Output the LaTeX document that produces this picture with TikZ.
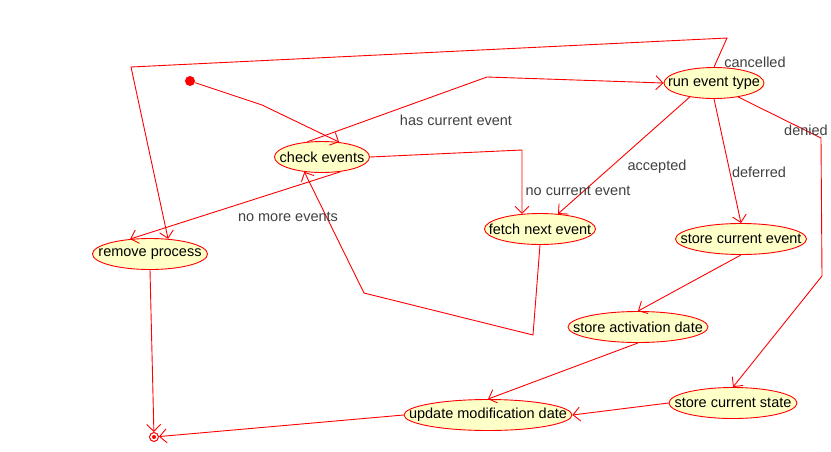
\documentclass[tikz,border=0pt]{standalone}
\usepackage{fontspec}
\setmainfont{Liberation Sans}
\usetikzlibrary{shapes.geometric}
\usetikzlibrary{arrows.meta}
\definecolor{stfill}{RGB}{255,255,200}
\definecolor{lblgray}{RGB}{64,64,64}
\tikzstyle{state}=[ellipse, draw=red, fill=stfill, line width=0.9pt, inner sep=0pt, minimum height=31pt]
\tikzstyle{trans}=[draw=red, line width=0.9pt, -{Straight Barb[length=7pt,width=14pt]}]
\tikzstyle{guard}=[text=lblgray, inner sep=0pt]
\tikzstyle{startdot}=[circle, fill=red, minimum size=10pt, inner sep=0pt]
\tikzstyle{enddot}=[circle, draw=red, fill=white, line width=1pt, minimum size=9pt, inner sep=0pt]
\newcommand{\stxt}[1]{\makebox[0pt]{#1}}

\begin{document}
\begin{tikzpicture}[x=1pt, y=-1pt, font=\fontsize{14.5}{16}\selectfont]
    \useasboundingbox (0,0) rectangle (831,451);

    %states
    \node [startdot] (init) at (190,81) {};
    \node [state, minimum width=95pt] (chk) at (322,157) {\stxt{check events}};
    \node [state, minimum width=100pt] (run) at (714,83) {\stxt{run event type}};
    \node [state, minimum width=111pt] (fetch) at (540,229) {\stxt{fetch next event}};
    \node [state, minimum width=131pt] (stce) at (741,239) {\stxt{store current event}};
    \node [state, minimum width=115pt] (rem) at (150,254) {\stxt{remove process}};
    \node [state, minimum width=140pt] (sad) at (638,327) {\stxt{store activation date}};
    \node [state, minimum width=128pt] (scs) at (733,403) {\stxt{store current state}};
    \node [state, minimum width=168pt] (umd) at (488,415) {\stxt{update modification date}};
    \node [enddot] (fin) at (154,437) {};
    \fill [red] (fin.center) circle (2pt);

    %transitions
    \draw [trans] (init) -- (262,105) -- (chk.41);
    \draw [trans] (chk.134) -- (487,77) -- (run.west);
    \draw [trans] (chk.east) -- (522,150) -- (fetch.140);
    \draw [trans] (chk.-38) -- (rem.143);
    \draw [trans] (fetch.south) -- (533,335) -- (364,293) -- (chk.-140);
    \draw [trans] (run.-150) -- (fetch.40);
    \draw [trans] (run.south) -- (stce.north);
    \draw [trans] (run.-30) -- (821,138) -- (822,276) -- (scs.north);
    \draw [trans] (run.north) -- (727,38) -- (131,67) -- (rem.40);
    \draw [trans] (stce.south) -- (sad.north);
    \draw [trans] (sad.south) -- (umd.north);
    \draw [trans] (scs.west) -- (umd.east);
    \draw [trans] (umd.west) -- (fin);
    \draw [trans] (rem.south) -- (fin);

    %guards
    \node [guard] (gcan) at (755,62) {cancelled};
    \node [guard] (ghas) at (456,120) {has current event};
    \node [guard] (gacc) at (657,167) {accepted};
    \node [guard] (gdef) at (759,172) {deferred};
    \node [guard] (gden) at (806,130) {denied};
    \node [guard] (gnoc) at (578,191) {no current event};
    \node [guard] (gnom) at (288,217) {no more events};

\end{tikzpicture}
\end{document}
